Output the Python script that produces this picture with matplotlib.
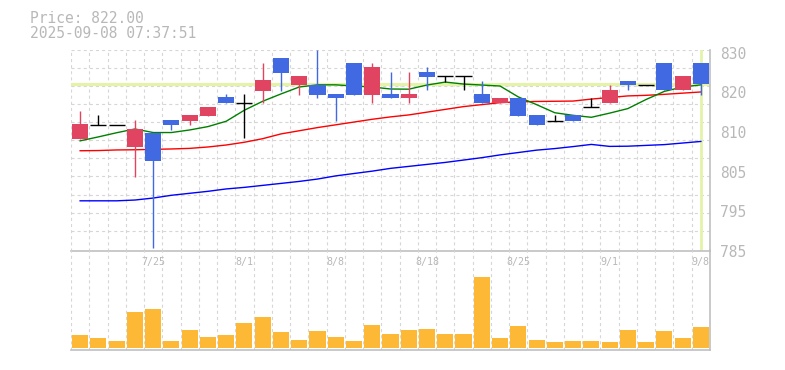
import matplotlib
matplotlib.use("Agg")
import matplotlib.pyplot as plt
from matplotlib.transforms import blended_transform_factory

plt.rcParams['lines.scale_dashes'] = False

# daily bars, 2025-07-18 .. 2025-09-08
dates = ["7/18", "7/22", "7/23", "7/24", "7/25", "7/28", "7/29", "7/30", "7/31", "8/1",
         "8/4", "8/5", "8/6", "8/7", "8/8", "8/12", "8/13", "8/14", "8/15", "8/18",
         "8/19", "8/20", "8/21", "8/22", "8/25", "8/26", "8/27", "8/28", "8/29", "9/1",
         "9/2", "9/3", "9/4", "9/5", "9/8"]
opens = [808.3, 811.85, 811.85, 806.2, 809.7, 812.9, 812.7, 814.0, 818.75, 817.35,
         820.4, 828.7, 821.75, 821.9, 819.7, 827.4, 819.4, 819.7, 818.5, 825.2,
         824.1, 824.1, 819.7, 817.2, 818.7, 814.2, 812.85, 814.2, 816.4, 817.2,
         822.9, 821.85, 827.4, 820.5, 827.4]
highs = [815.2, 814.2, 811.85, 812.9, 809.7, 812.9, 814.2, 816.4, 819.7, 819.7,
         827.4, 828.7, 824.2, 830.7, 819.7, 827.4, 827.4, 825.2, 825.2, 826.4,
         824.1, 824.1, 822.9, 818.7, 818.7, 814.2, 814.2, 814.2, 818.7, 821.9,
         822.9, 821.85, 827.4, 824.2, 827.4]
lows = [808.3, 811.85, 811.85, 798.6, 780.6, 810.5, 811.75, 814.0, 817.2, 808.4,
        817.35, 820.4, 819.4, 818.5, 812.7, 819.4, 817.2, 818.5, 817.2, 820.5,
        822.6, 820.5, 817.2, 817.2, 814.0, 811.75, 812.85, 812.75, 816.4, 817.2,
        820.5, 821.85, 820.5, 820.5, 819.4]
closes = [811.9, 811.85, 811.85, 810.7, 802.7, 811.75, 814.2, 816.4, 817.2, 817.35,
          823.0, 825.0, 824.2, 819.4, 818.5, 819.4, 826.4, 818.5, 819.7, 824.0,
          824.1, 824.1, 817.2, 818.7, 814.0, 811.75, 812.85, 812.75, 816.4, 820.7,
          821.75, 821.85, 820.5, 824.2, 822.0]
ma_short = [807.75, 808.75, 809.8, 810.75, 809.85, 809.85, 810.5, 811.35, 812.7, 815.5,
            817.75, 819.6, 821.35, 821.9, 821.9, 821.6, 821.35, 820.85, 820.8, 821.85,
            822.6, 822.1, 821.85, 821.6, 818.85, 816.9, 814.85, 814.2, 813.7, 814.75,
            815.9, 818.2, 820.25, 821.35, 821.9]
ma_mid = [805.25, 805.3, 805.45, 805.5, 805.6, 805.7, 805.85, 806.2, 806.7, 807.4,
          808.3, 809.5, 810.3, 811.1, 811.8, 812.5, 813.2, 813.8, 814.3, 815.0,
          815.7, 816.4, 816.9, 817.4, 817.6, 817.7, 817.75, 817.8, 818.3, 818.7,
          819.1, 819.25, 819.5, 819.8, 820.1]
ma_long = [792.6, 792.6, 792.6, 792.8, 793.3, 794.0, 794.5, 795.0, 795.6, 796.0,
           796.5, 797.0, 797.5, 798.1, 798.9, 799.5, 800.1, 800.8, 801.3, 801.8,
           802.3, 802.9, 803.5, 804.2, 804.8, 805.4, 805.8, 806.3, 806.85, 806.35,
           806.4, 806.6, 806.8, 807.2, 807.6]
volumes = [13, 10, 7, 36, 39, 7, 18, 11, 13, 25,
           31, 16, 8, 17, 11, 7, 23, 14, 18, 19,
           14, 14, 71, 10, 22, 8, 6, 7, 7, 6,
           18, 6, 17, 10, 21]
last_price = 822.0
y_ticks = [830, 820, 810, 800, 790, 780]
y_tick_labels = ["830", "820", "810", "805", "795", "785"]

W, H = 785, 370
fig = plt.figure(figsize=(W / 100, H / 100), dpi=100)
ax = fig.add_axes([71 / W, (H - 250.7) / H, 639 / W, 200.7 / H])
axv = fig.add_axes([71 / W, 20 / H, 639 / W, 100 / H])
axv.set_facecolor("none")

n = len(dates)
xs = list(range(n))
grid_kw = dict(color="#d6d6d6", lw=0.8, ls=(0, (2.2, 2.2)), zorder=0.5)
axis_col = "#c0c0c0"
text_col = "#b8b8b8"
mono = "DejaVu Sans Mono"

# price panel
ylo, yhi = 780.5, 830.7
ax.set_xlim(-0.5, n - 0.5)
ax.set_ylim(ylo, yhi)
for k in range(1, 12):
    ax.axhline(ylo + k * (yhi - ylo) / 11, **grid_kw)
for i in range(n):
    ax.axvline(i - 0.5, **grid_kw)
    axv.axvline(i - 0.5, **grid_kw)

ax.axhline(last_price, color="#e4f3a9", lw=2.3, zorder=1)
ax.axvline(n - 1, color="#e4f3a9", lw=2.0, zorder=1)

ax.plot(xs, ma_long, color="#0000ff", lw=1.0, zorder=2)
ax.plot(xs, ma_mid, color="#ff0000", lw=1.0, zorder=2)
ax.plot(xs, ma_short, color="#008000", lw=1.0, zorder=2)

for i in xs:
    o, h, l, c = opens[i], highs[i], lows[i], closes[i]
    if c > o:
        col = "#e04460"
    elif c < o:
        col = "#4169e1"
    else:
        col = "black"
    if h > l:
        ax.vlines(i, l, h, color=col, lw=1.0, zorder=3)
    if c == o:
        ax.hlines(o, i - 0.44, i + 0.44, color=col, lw=1.0, zorder=3)
    else:
        ax.bar(i, c - o, bottom=o, width=0.88, color=col, zorder=3)

ax.set_yticks(y_ticks)
ax.set_yticklabels(y_tick_labels, fontfamily=mono, fontsize=10.5, color=text_col)
ax.yaxis.tick_right()
ax.tick_params(axis="y", length=0, pad=7)
ax.set_xticks([])
for s in ["top", "left"]:
    ax.spines[s].set_visible(False)
for s in ["right", "bottom"]:
    ax.spines[s].set_color(axis_col)
    ax.spines[s].set_linewidth(1.2)

# volume panel
axv.set_xlim(-0.5, n - 0.5)
axv.set_ylim(-2, 98)
axv.bar(xs, volumes, width=0.88, color="#fdb935", zorder=2)
axv.set_xticks([])
axv.set_yticks([])
for s in ["top", "left"]:
    axv.spines[s].set_visible(False)
for s in ["right", "bottom"]:
    axv.spines[s].set_color(axis_col)
    axv.spines[s].set_linewidth(1.2)

tr = blended_transform_factory(axv.transData, axv.transAxes)
for i in range(4, n, 5):
    axv.text(i, 0.88, dates[i], transform=tr, ha="center", va="center",
             fontfamily=mono, fontsize=7.2, color=text_col, zorder=3)

fig.text(30 / W, 1 - 23 / H, "Price: %.2f" % last_price, fontfamily=mono,
         fontsize=10.5, color=text_col, va="baseline")
fig.text(30 / W, 1 - 38 / H, "2025-09-08 07:37:51", fontfamily=mono,
         fontsize=10.5, color=text_col, va="baseline")

fig.savefig("out.png", dpi=100)
